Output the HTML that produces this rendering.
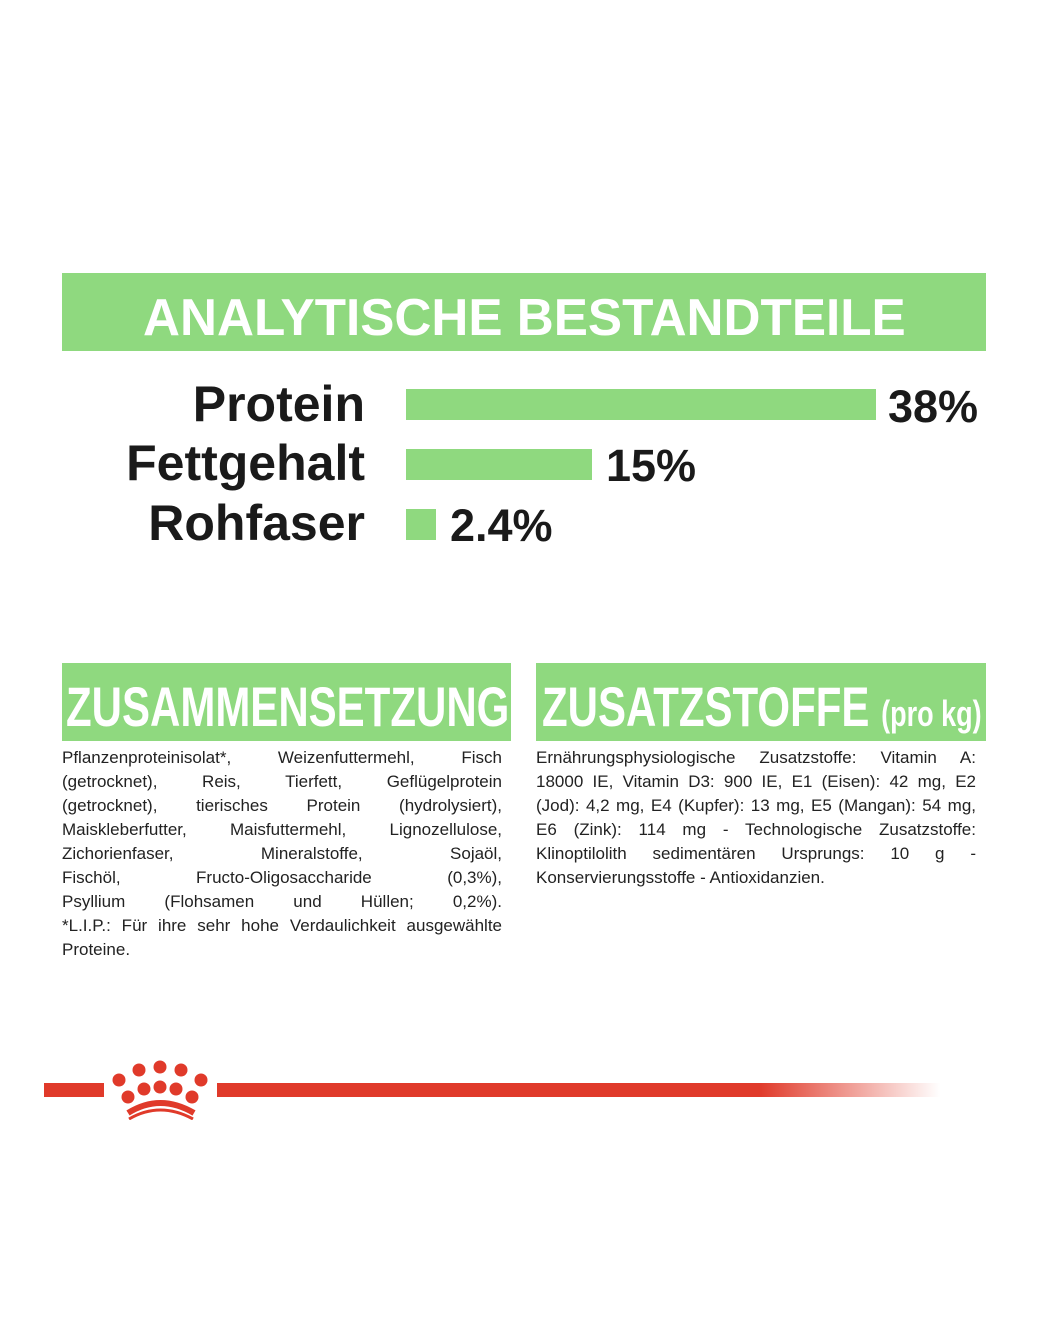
<!DOCTYPE html>
<html><head><meta charset="utf-8"><style>
body{margin:0;width:1049px;height:1327px;background:#fff;position:relative;overflow:hidden;font-family:"Liberation Sans",sans-serif;color:#1a1a1a}
.a{position:absolute}
.g{background:#8fd97f}
.lab{position:absolute;right:684px;font-weight:bold;font-size:50px;line-height:1;white-space:nowrap}
.val{position:absolute;font-weight:bold;font-size:45px;line-height:1}
.ttl{position:absolute;color:#fff;font-weight:bold;white-space:nowrap;transform-origin:left top}
.txt{position:absolute;font-size:17px;line-height:24px;color:#222}
.txt div{text-align:justify;text-align-last:justify;white-space:nowrap;overflow:visible}
.txt div.l{text-align-last:left}
</style></head><body>
<div class="a g" style="left:62px;top:273px;width:924px;height:78px"></div>
<div class="ttl" style="left:143px;top:288px;font-size:52px;transform:scaleX(0.985)">ANALYTISCHE BESTANDTEILE</div>

<div class="lab" style="top:379px">Protein</div>
<div class="lab" style="top:438px">Fettgehalt</div>
<div class="lab" style="top:498px">Rohfaser</div>
<div class="a g" style="left:406px;top:389px;width:470px;height:31px"></div>
<div class="a g" style="left:406px;top:449px;width:186px;height:31px"></div>
<div class="a g" style="left:406px;top:509px;width:30px;height:31px"></div>
<div class="val" style="left:888px;top:384px">38%</div>
<div class="val" style="left:606px;top:443px">15%</div>
<div class="val" style="left:450px;top:503px">2.4%</div>

<div class="a g" style="left:62px;top:663px;width:449px;height:78px"></div>
<div class="ttl" style="left:66px;top:674px;font-size:56px;transform:scaleX(0.75)">ZUSAMMENSETZUNG</div>
<div class="a g" style="left:536px;top:663px;width:450px;height:78px"></div>
<div class="ttl" style="left:542px;top:674px;font-size:56px;transform:scaleX(0.75)">ZUSATZSTOFFE <span style="font-size:36px">(pro kg)</span></div>

<div class="txt" style="left:62px;top:746px;width:440px">
<div>Pflanzenproteinisolat*, Weizenfuttermehl, Fisch</div>
<div>(getrocknet), Reis, Tierfett, Geflügelprotein</div>
<div>(getrocknet), tierisches Protein (hydrolysiert),</div>
<div>Maiskleberfutter, Maisfuttermehl, Lignozellulose,</div>
<div>Zichorienfaser, Mineralstoffe, Sojaöl,</div>
<div>Fischöl, Fructo-Oligosaccharide (0,3%),</div>
<div>Psyllium (Flohsamen und Hüllen; 0,2%).</div>
<div>*L.I.P.: Für ihre sehr hohe Verdaulichkeit ausgewählte</div>
<div class="l">Proteine.</div>
</div>
<div class="txt" style="left:536px;top:746px;width:440px">
<div>Ernährungsphysiologische Zusatzstoffe: Vitamin A:</div>
<div>18000 IE, Vitamin D3: 900 IE, E1 (Eisen): 42 mg, E2</div>
<div>(Jod): 4,2 mg, E4 (Kupfer): 13 mg, E5 (Mangan): 54 mg,</div>
<div>E6 (Zink): 114 mg - Technologische Zusatzstoffe:</div>
<div>Klinoptilolith sedimentären Ursprungs: 10 g -</div>
<div class="l">Konservierungsstoffe - Antioxidanzien.</div>
</div>

<div class="a" style="left:44px;top:1083px;width:60px;height:14px;background:#e03a2a"></div>
<div class="a" style="left:217px;top:1083px;width:723px;height:14px;background:linear-gradient(to right,#e03a2a 0%,#e03a2a 75%,rgba(224,58,42,0) 100%)"></div>
<svg class="a" style="left:104px;top:1055px" width="113" height="65" viewBox="0 0 113 65">
<g fill="#e03a2a">
<circle cx="15" cy="25" r="6.5"/><circle cx="35" cy="15" r="6.5"/><circle cx="56" cy="12" r="6.5"/><circle cx="77" cy="15" r="6.5"/><circle cx="97" cy="25" r="6.5"/>
<circle cx="24" cy="42" r="6.5"/><circle cx="40" cy="34" r="6.5"/><circle cx="56" cy="32" r="6.5"/><circle cx="72" cy="34" r="6.5"/><circle cx="88" cy="42" r="6.5"/>
</g>
<path d="M24 58 Q56 38 90 58" stroke="#e03a2a" stroke-width="6" fill="none"/>
<path d="M25 64 Q56 46 89 64" stroke="#e03a2a" stroke-width="3" fill="none"/>
</svg>
</body></html>
